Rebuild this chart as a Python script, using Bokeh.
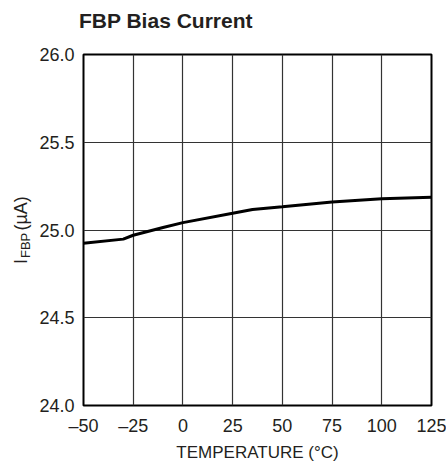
from bokeh.plotting import figure
from bokeh.models import FixedTicker, Range1d
from bokeh.layouts import column, row
from bokeh.core.properties import value
from bokeh.embed import file_html
from bokeh.resources import INLINE

# data
temperature = [-50, -30, -25, -10, 0, 25, 35, 50, 75, 100, 125]
current = [24.925, 24.948, 24.970, 25.014, 25.042, 25.095, 25.117, 25.133, 25.160, 25.178, 25.186]
x_ticks = [-50, -25, 0, 25, 50, 75, 100, 125]
x_tick_labels = ["\u201350", "\u201325", "0", "25", "50", "75", "100", "125"]
y_ticks = [24.0, 24.5, 25.0, 25.5, 26.0]
y_tick_labels = ["24.0", "24.5", "25.0", "25.5", "26.0"]
title_text = "FBP Bias Current"
x_label = "TEMPERATURE (\u00b0C)"
y_label_parts = ["I", "FBP", "(\u00b5A)"]

FONT = "Liberation Sans"
INK = "#231f20"
LEFT_W = 36

y_range = Range1d(24, 26)
x_range = Range1d(-50, 125)


def blank(width, height, xr, yr):
    f = figure(width=width, height=height, output_backend="svg", toolbar_location=None,
               title=None, x_range=xr, y_range=yr,
               x_axis_type=None, y_axis_type=None, min_border=0, tools="")
    f.outline_line_color = None
    f.grid.visible = False
    return f


# title strip
top = blank(446, 40, Range1d(0, 446), Range1d(0, 40))
top.text(x=[78.5], y=[20.5], text=[title_text], text_font=value(FONT), text_font_style="bold",
         text_font_size="21px", text_color=INK, text_align="left", text_baseline="middle")

# rotated y-axis label strip (with subscript); shares the chart's y scale
left = blank(LEFT_W, 424, Range1d(0, LEFT_W), y_range)
left.text(x=[20.7], y=[24.821], text=[y_label_parts[0]], angle=1.5708, text_font=value(FONT),
          text_font_size="18px", text_color=INK, text_align="center", text_baseline="middle")
left.text(x=[24.9], y=[24.9125], text=[y_label_parts[1]], angle=1.5708, text_font=value(FONT),
          text_font_size="13px", text_color=INK, text_align="center", text_baseline="middle")
left.text(x=[20.7], y=[25.095], text=[y_label_parts[2]], angle=1.5708, text_font=value(FONT),
          text_font_size="18px", text_color=INK, text_align="center", text_baseline="middle")

# main chart
p = figure(width=446 - LEFT_W, height=424, output_backend="svg", toolbar_location=None, tools="",
           title=None, x_range=x_range, y_range=y_range,
           min_border_left=81 - LEFT_W, min_border_right=15, min_border_top=14, min_border_bottom=58)

p.line(temperature, current, line_color="black", line_width=3)

p.outline_line_color = "black"
p.outline_line_width = 2
for ax in (p.xaxis, p.yaxis):
    ax.axis_line_color = None
    ax.major_tick_out = 0
    ax.major_tick_in = 0
    ax.minor_tick_line_color = None
    ax.major_label_text_font = FONT
    ax.major_label_text_font_size = "18px"
    ax.major_label_text_color = INK
p.xaxis.ticker = FixedTicker(ticks=x_ticks)
p.xaxis.major_label_overrides = {t: l for t, l in zip(x_ticks, x_tick_labels)}
p.yaxis.ticker = FixedTicker(ticks=y_ticks)
p.yaxis.major_label_overrides = {t: l for t, l in zip(y_ticks, y_tick_labels)}
p.xaxis.major_label_standoff = 10
p.yaxis.major_label_standoff = 9

p.xaxis.axis_label = x_label
p.xaxis.axis_label_text_font = FONT
p.xaxis.axis_label_text_font_size = "17px"
p.xaxis.axis_label_text_font_style = "normal"
p.xaxis.axis_label_text_color = INK
p.xaxis.axis_label_standoff = 4

p.xgrid.ticker = FixedTicker(ticks=x_ticks)
p.ygrid.ticker = FixedTicker(ticks=y_ticks)
for g in (p.xgrid, p.ygrid):
    g.grid_line_color = "#333333"
    g.grid_line_width = 1.2

layout = column(top, row(left, p))
open("out.html", "w").write(file_html(layout, INLINE))
